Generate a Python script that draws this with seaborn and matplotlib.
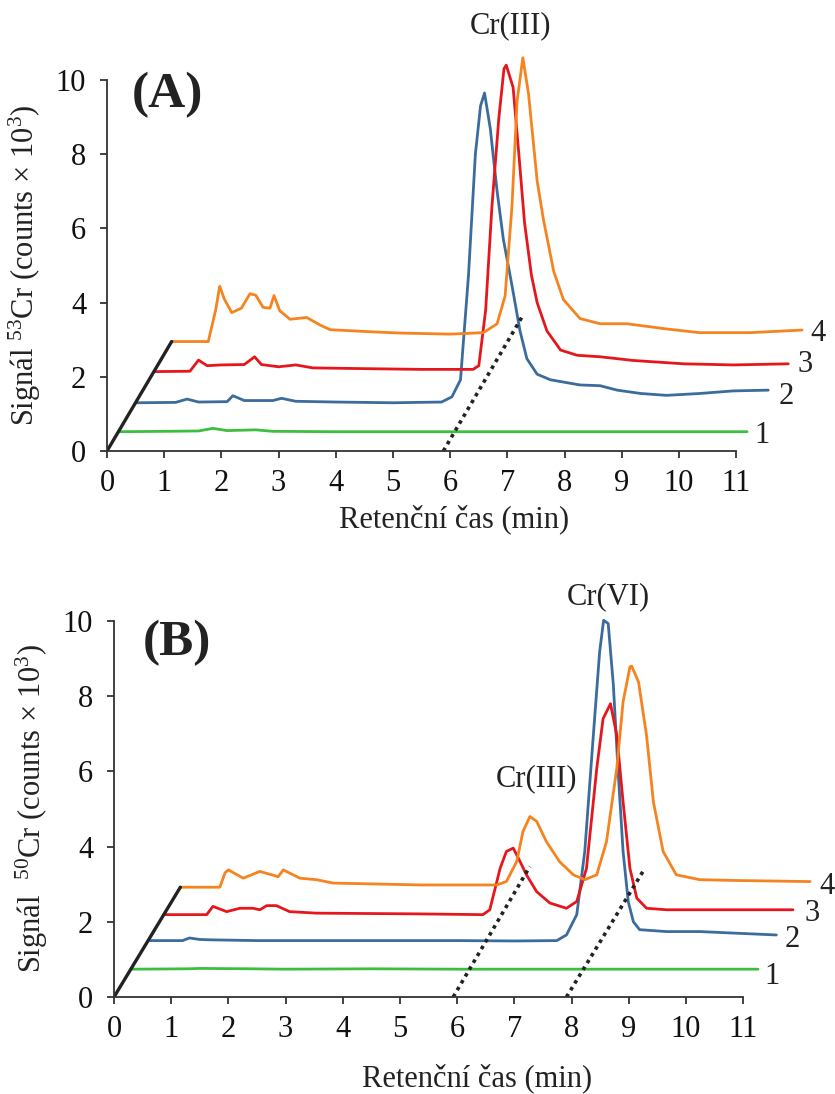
import numpy as np
import pandas as pd
import matplotlib
matplotlib.use("Agg")
import matplotlib.pyplot as plt
import seaborn as sns

# ---------------- data (display coordinates) ----------------
# Panel A (53Cr)
A1_t = [0.2, 1.0, 1.6, 1.85, 2.1, 2.6, 2.9, 4.0, 6.0, 8.0, 11.19]
A1_y = [0.52, 0.53, 0.54, 0.61, 0.55, 0.57, 0.53, 0.52, 0.52, 0.52, 0.52]

A2_t = [0.51, 1.2, 1.4, 1.6, 2.1, 2.2, 2.4, 2.9, 3.05, 3.3, 4.0, 5.0, 5.85, 6.03, 6.18, 6.32, 6.44,
        6.53, 6.6, 6.7, 6.82, 6.93, 7.08, 7.22, 7.34, 7.52, 7.75, 8.27, 8.62, 8.92, 9.33, 9.78,
        10.36, 10.95, 11.56]
A2_y = [1.30, 1.31, 1.40, 1.32, 1.33, 1.49, 1.36, 1.36, 1.42, 1.34, 1.32, 1.30, 1.32, 1.46, 1.92,
        4.74, 8.0, 9.3, 9.65, 8.7, 7.0, 5.7, 4.46, 3.24, 2.49, 2.07, 1.92, 1.78, 1.76, 1.64, 1.55,
        1.5, 1.55, 1.62, 1.64]

A3_t = [0.83, 1.45, 1.6, 1.75, 2.0, 2.4, 2.58, 2.7, 3.0, 3.3, 3.6, 4.5, 5.5, 6.4, 6.5, 6.62, 6.73,
        6.85, 6.94, 6.98, 7.1, 7.2, 7.3, 7.42, 7.52, 7.69, 7.93, 8.22, 8.62, 9.2, 10.08, 10.95, 11.91]
A3_y = [2.14, 2.15, 2.45, 2.3, 2.32, 2.33, 2.54, 2.33, 2.27, 2.32, 2.24, 2.22, 2.2, 2.2, 2.3, 3.8,
        6.6, 8.97, 10.3, 10.4, 9.8, 8.0, 6.15, 4.74, 4.0, 3.24, 2.72, 2.58, 2.54, 2.44, 2.35, 2.32, 2.35]

A4_t = [1.13, 1.77, 1.9, 1.97, 2.05, 2.18, 2.35, 2.5, 2.6, 2.73, 2.85, 2.92, 3.02, 3.2, 3.49, 3.72,
        3.9, 4.53, 5.1, 6.0, 6.58, 6.82, 6.96, 7.08, 7.17, 7.27, 7.37, 7.52, 7.63, 7.81, 7.98, 8.27,
        8.62, 9.09, 9.78, 10.36, 11.24, 12.15]
A4_y = [2.95, 2.95, 3.8, 4.44, 4.1, 3.73, 3.85, 4.24, 4.2, 3.87, 3.85, 4.19, 3.78, 3.55, 3.6, 3.4,
        3.27, 3.22, 3.18, 3.15, 3.19, 3.43, 4.18, 6.6, 9.44, 10.6, 9.62, 7.28, 6.24, 4.84, 4.08, 3.57,
        3.43, 3.43, 3.29, 3.19, 3.19, 3.26]

# Panel B (50Cr)
B1_t = [0.31, 1.3, 1.5, 2.4, 3.0, 4.5, 6.0, 8.0, 9.5, 11.26]
B1_y = [0.74, 0.75, 0.76, 0.75, 0.74, 0.75, 0.74, 0.74, 0.74, 0.74]

B2_t = [0.63, 1.2, 1.32, 1.5, 1.7, 2.5, 4.0, 6.0, 7.0, 7.74, 7.91, 8.09, 8.23, 8.38, 8.49, 8.56,
        8.64, 8.73, 8.81, 8.9, 8.99, 9.08, 9.19, 9.66, 10.24, 10.83, 11.58]
B2_y = [1.5, 1.5, 1.57, 1.53, 1.52, 1.5, 1.5, 1.5, 1.49, 1.5, 1.65, 2.19, 3.87, 6.96, 9.18, 10.02,
        9.93, 8.3, 6.08, 3.87, 2.54, 2.0, 1.79, 1.74, 1.74, 1.7, 1.65]

B3_t = [0.87, 1.62, 1.73, 1.97, 2.2, 2.43, 2.55, 2.67, 2.84, 3.07, 3.54, 5.35, 6.45, 6.57, 6.75,
        6.86, 6.98, 7.1, 7.21, 7.39, 7.62, 7.91, 8.09, 8.26, 8.44, 8.55, 8.68, 8.79, 8.9, 9.02, 9.14,
        9.31, 9.66, 10.83, 11.87]
B3_y = [2.19, 2.19, 2.41, 2.27, 2.36, 2.36, 2.32, 2.43, 2.43, 2.27, 2.23, 2.21, 2.19, 2.32, 3.42,
        3.87, 3.96, 3.6, 3.25, 2.8, 2.5, 2.36, 2.54, 3.42, 6.08, 7.4, 7.8, 6.96, 5.19, 3.42, 2.63,
        2.36, 2.32, 2.32, 2.32]

B4_t = [1.17, 1.85, 1.94, 2.0, 2.26, 2.55, 2.87, 2.96, 3.25, 3.54, 3.83, 5.35, 6.69, 6.86, 7.04,
        7.15, 7.27, 7.39, 7.56, 7.79, 8.03, 8.23, 8.44, 8.61, 8.79, 8.9, 9.02, 9.05, 9.17, 9.31, 9.43,
        9.6, 9.83, 10.24, 10.83, 12.17]
B4_y = [2.92, 2.92, 3.3, 3.38, 3.16, 3.34, 3.2, 3.38, 3.16, 3.12, 3.03, 2.98, 2.98, 3.07, 3.6, 4.4,
        4.8, 4.67, 4.13, 3.6, 3.25, 3.12, 3.25, 4.13, 6.08, 7.85, 8.78, 8.8, 8.38, 6.96, 5.19, 3.87,
        3.25, 3.12, 3.1, 3.07]

trace_names = ["1", "2", "3", "4"]
colors = ["#3EBE3E", "#3B6C9C", "#E5171D", "#F5831F"]

x_ticks = list(range(0, 12))
y_ticks = [0, 2, 4, 6, 8, 10]

# depth axis (pseudo-3D) and peak guide lines
A_depth = ([0, 1.13], [0, 2.95])
B_depth = ([0, 1.16], [0, 2.92])
A_guides = [([5.88, 7.25], [0, 3.6])]
B_guides = [([5.93, 7.27], [0, 3.47]), ([7.91, 9.28], [0, 3.42])]

A_label_pos = [(11.45, 0.43), (11.87, 1.46), (12.2, 2.32), (12.43, 3.18)]
B_label_pos = [(11.5, 0.54), (11.85, 1.52), (12.2, 2.23), (12.46, 2.93)]

# ---------------- style ----------------
sns.set_theme(style="ticks")
plt.rcParams["font.family"] = ["Liberation Serif", "DejaVu Serif"]
plt.rcParams["mathtext.fontset"] = "custom"
plt.rcParams["mathtext.rm"] = "Liberation Serif"
plt.rcParams["mathtext.it"] = "Liberation Serif:italic"

FS = 22
fig = plt.figure(figsize=(8.35, 10.94), dpi=100)

W_PX, H_PX = 835, 1094
unit_x = 57.2
xmax = 12.4


def make_axes(x0_px, y0_px, unit_y):
    left = x0_px / W_PX
    width = xmax * unit_x / W_PX
    bottom = 1 - y0_px / H_PX
    height = 11 * unit_y / H_PX
    return fig.add_axes([left, bottom, width, height])


def draw_panel(ax, traces, depth, guides, label_pos, tag, ylab, ylab_x, xlab_xy):
    for (t, y), name, c in zip(traces, trace_names, colors):
        df = pd.DataFrame({"t": t, "y": y})
        sns.lineplot(data=df, x="t", y="y", ax=ax, color=c, linewidth=2.0,
                     sort=False, estimator=None, clip_on=False)
    ax.plot(depth[0], depth[1], color="#222222", linewidth=2.4, solid_capstyle="round")
    for gx, gy in guides:
        ax.plot(gx, gy, color="#222222", linewidth=2.6, linestyle=(0, (1, 1.2)))
    for (lx, ly), name in zip(label_pos, trace_names):
        ax.text(lx, ly, name, fontsize=FS, ha="center", va="center", clip_on=False,
                color="#222222")
    ax.set_xlim(0, xmax)
    ax.set_ylim(0, 11)
    ax.set_xticks(x_ticks)
    ax.set_yticks(y_ticks)
    ax.spines["top"].set_visible(False)
    ax.spines["right"].set_visible(False)
    ax.spines["bottom"].set_bounds(0, 11)
    ax.spines["left"].set_bounds(0, 10)
    for s in ("bottom", "left"):
        ax.spines[s].set_color("#333333")
        ax.spines[s].set_linewidth(1.3)
    ax.tick_params(axis="both", direction="out", length=5, width=1.3, color="#333333",
                   labelsize=FS, labelcolor="#111111")
    ax.tick_params(axis="x", pad=8)
    ax.tick_params(axis="y", pad=10)
    ax.set_xlabel("Retenční čas (min)", fontsize=FS, color="#222222")
    ax.set_ylabel(ylab, fontsize=FS, color="#222222")
    ax.xaxis.set_label_coords(*xlab_xy)
    ax.yaxis.set_label_coords(ylab_x, 5 / 11)
    ax.text(tag[1], tag[2], tag[0], fontsize=37, fontweight="bold", ha="center",
            va="center", color="#222222")


axA = make_axes(107, 451, 37.1)
draw_panel(axA, [(A1_t, A1_y), (A2_t, A2_y), (A3_t, A3_y), (A4_t, A4_y)], A_depth, A_guides,
           A_label_pos, ("(A)", 1.05, 9.6),
           r"Signál $^{\mathrm{53}}$Cr (counts × 10$^{\mathrm{3}}$)", -0.090, (0.49, -0.132))
axA.text(7.05, 11.46, "Cr(III)", fontsize=FS, ha="center", va="center", clip_on=False,
         color="#222222")

axB = make_axes(114, 997, 37.6)
draw_panel(axB, [(B1_t, B1_y), (B2_t, B2_y), (B3_t, B3_y), (B4_t, B4_y)], B_depth, B_guides,
           B_label_pos, ("(B)", 1.1, 9.4),
           r"Signál  $^{\mathrm{50}}$Cr (counts × 10$^{\mathrm{3}}$)", -0.090, (0.512, -0.16))
axB.text(8.64, 10.64, "Cr(VI)", fontsize=FS, ha="center", va="center", clip_on=False,
         color="#222222")
axB.text(7.39, 5.81, "Cr(III)", fontsize=FS, ha="center", va="center", clip_on=False,
         color="#222222")

fig.savefig("out.png", dpi=100)
